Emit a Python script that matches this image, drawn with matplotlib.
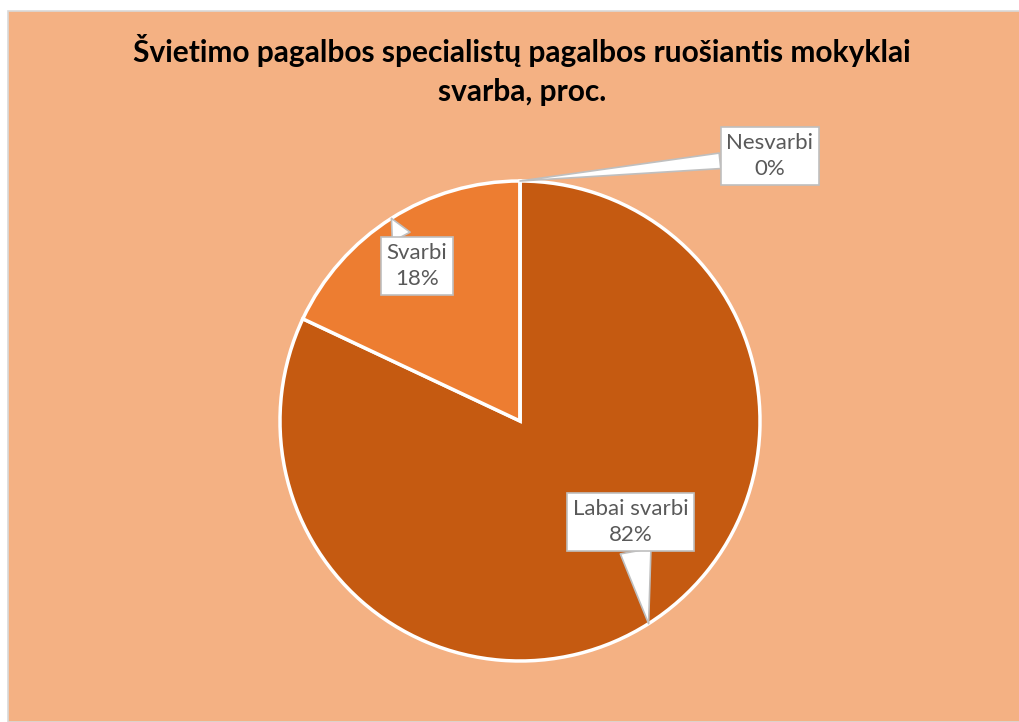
import numpy as np
import matplotlib
matplotlib.use("Agg")
import matplotlib.pyplot as plt
from matplotlib.patches import Rectangle

# duomenys
categories = ["Labai svarbi", "Svarbi", "Nesvarbi"]
values = [82, 18, 0]
colors = ["#C55A11", "#ED7D31", "#F4B183"]
title = "Švietimo pagalbos specialistų pagalbos ruošiantis mokyklai\nsvarba, proc."

# label box centres in pie-radius units
label_pos = [(0.46, -0.42), (-0.43, 0.645), (1.04, 1.105)]
tail_w = [1.4, 0.9, 0.7]

plt.rcParams["font.family"] = ["Lato", "DejaVu Sans"]

W, H = 1019, 722
fig = plt.figure(figsize=(W / 100, H / 100), dpi=100)
fig.patch.set_facecolor("white")

# chart area background
fig.patches.append(Rectangle((8 / W, 0), 1, 1 - 11 / H, transform=fig.transFigure,
                             facecolor="#F4B183", edgecolor="#D9D9D9", lw=1.2, zorder=-5))

fig.text(522 / W, 1 - 70 / H, title, ha="center", va="center", fontsize=21.5,
         fontweight="bold", linespacing=1.45, color="black")

cx, cy, r = 520, 421, 240
ax = fig.add_axes([(cx - r) / W, (H - cy - r) / H, 2 * r / W, 2 * r / H])
ax.set_aspect("equal")
ax.axis("off")
ax.patch.set_alpha(0)

wedges, _ = ax.pie(values, colors=colors, startangle=90, counterclock=False,
                   radius=1, wedgeprops=dict(edgecolor="white", linewidth=2.5))
ax.set_xlim(-1, 1)
ax.set_ylim(-1, 1)

for w, name, v, pos, tw in zip(wedges, categories, values, label_pos, tail_w):
    mid = np.deg2rad((w.theta1 + w.theta2) / 2)
    tip = (np.cos(mid), np.sin(mid))
    ax.annotate(f"{name}\n{v}%", xy=tip, xytext=pos, ha="center", va="center",
                fontsize=16, color="#595959", linespacing=1.4,
                bbox=dict(boxstyle="square,pad=0.25", fc="white", ec="#BFBFBF", lw=1.2),
                arrowprops=dict(arrowstyle=f"wedge,tail_width={tw},shrink_factor=0.5",
                                fc="white", ec="#BFBFBF", lw=1.2, shrinkA=0, shrinkB=0),
                annotation_clip=False)

fig.savefig("out.png", dpi=100, facecolor="white")
